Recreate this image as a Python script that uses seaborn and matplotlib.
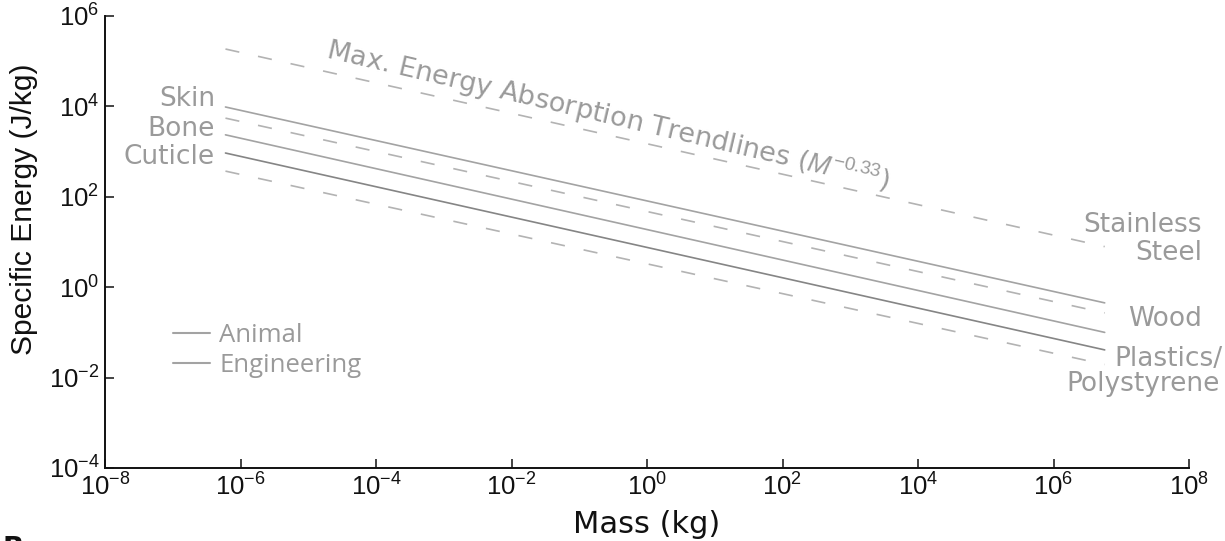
import numpy as np
import pandas as pd
import matplotlib
matplotlib.use("Agg")
import matplotlib.pyplot as plt
import seaborn as sns
from matplotlib.lines import Line2D

# ---- data ----
mass_ends = [6.0e-7, 5.7e6]                 # kg, start/end of every trendline
line_names = ["Max", "Skin", "Wood", "Bone", "Cuticle", "Plastics"]
energy_start = [1.86e5, 9.7e3, 5.5e3, 2.35e3, 9.3e2, 3.7e2]   # J/kg at mass_ends[0]
energy_end = [7.9, 0.45, 0.27, 0.10, 0.041, 0.0195]            # J/kg at mass_ends[1]
line_kinds = ["Engineering", "Animal", "Engineering", "Animal", "Animal", "Engineering"]

x_ticks = [1e-8, 1e-6, 1e-4, 1e-2, 1e0, 1e2, 1e4, 1e6, 1e8]
y_ticks = [1e-4, 1e-2, 1e0, 1e2, 1e4, 1e6]

animal_labels = ["Skin", "Bone", "Cuticle"]
animal_label_y = [1.0e4, 2.2e3, 5.3e2]
eng_labels = ["Stainless", "Steel", "Wood", "Plastics/", "Polystyrene"]
eng_label_y = [16.6, 4.0, 0.138, 0.0178, 0.0050]

rows = []
for n, k, s, e in zip(line_names, line_kinds, energy_start, energy_end):
    rows.append({"name": n, "kind": k, "mass": mass_ends[0], "energy": s})
    rows.append({"name": n, "kind": k, "mass": mass_ends[1], "energy": e})
df = pd.DataFrame(rows)

sns.set_theme(style="ticks")
plt.rcParams["font.family"] = ["DejaVu Sans"]
plt.rcParams["mathtext.fontset"] = "custom"
plt.rcParams["mathtext.rm"] = "Liberation Sans"
plt.rcParams["mathtext.it"] = "Liberation Sans:italic"
plt.rcParams["mathtext.bf"] = "Liberation Sans:bold"

fig = plt.figure(figsize=(12.25, 5.41), dpi=100)
ax = fig.add_axes([105 / 1225, 1 - 468 / 541, (1189 - 105) / 1225, (468 - 16) / 541])

gray_txt = "#9a9a9a"
colors = {"Max": "#b3b3b3", "Skin": "#a3a3a3", "Wood": "#b3b3b3",
          "Bone": "#a3a3a3", "Cuticle": "#858585", "Plastics": "#b3b3b3"}
dash = (0, (8.5, 11.5))
for n in line_names:
    sub = df[df["name"] == n]
    kind = sub["kind"].iloc[0]
    sns.lineplot(data=sub, x="mass", y="energy", ax=ax, color=colors[n],
                 linewidth=1.2, estimator=None, sort=False, legend=False)
    if kind == "Engineering":
        ax.lines[-1].set_linestyle(dash)

ax.set_xscale("log")
ax.set_yscale("log")
ax.set_xlim(1e-8, 1e8)
ax.set_ylim(1e-4, 1e6)
ax.set_xticks(x_ticks)
ax.set_yticks(y_ticks)
ax.minorticks_off()
ax.tick_params(axis="both", direction="in", length=6.5, width=1.1,
               labelsize=18.5, pad=4, colors="#111111")
for lbl in ax.get_xticklabels() + ax.get_yticklabels():
    lbl.set_fontfamily("Liberation Sans")
for side in ["top", "right"]:
    ax.spines[side].set_visible(False)
for side in ["left", "bottom"]:
    ax.spines[side].set_linewidth(1.4)
    ax.spines[side].set_color("#111111")

ax.set_xlabel("Mass (kg)", fontsize=22, color="#111111")
ax.set_ylabel("Specific Energy (J/kg)", fontsize=21.6, color="#111111",
              fontfamily="Liberation Sans")
ax.xaxis.set_label_coords(0.5, -0.093)
ax.yaxis.set_label_coords(-0.062, 0.573)

# left-side (animal) labels
for lab, yv in zip(animal_labels, animal_label_y):
    ax.text(4.2e-7, yv, lab, ha="right", va="baseline", fontsize=19, color=gray_txt)

# right-side (engineering) labels
right_x = [10 ** 8.19] * 3 + [10 ** 8.49, 10 ** 8.46]
for lab, xv, yv in zip(eng_labels, right_x, eng_label_y):
    ax.text(xv, yv, lab, ha="right", va="baseline", fontsize=19, color=gray_txt, clip_on=False)

ax.text(10 ** -4.753, 10 ** 5.07, r"Max. Energy Absorption Trendlines ($M^{-0.33}$)",
        rotation=-13.2, rotation_mode="anchor", ha="left", va="baseline",
        fontsize=19.5, color=gray_txt)

handles = [Line2D([], [], color="#a3a3a3", lw=1.5), Line2D([], [], color="#a3a3a3", lw=1.5)]
leg = ax.legend(handles, ["Animal", "Engineering"], loc="upper left",
                bbox_to_anchor=(173 / 1225, 1 - 323 / 541), bbox_transform=fig.transFigure,
                frameon=False, borderpad=0, borderaxespad=0, handlelength=1.45,
                handletextpad=0.35, labelspacing=0.2,
                prop={"family": "Open Sans", "size": 18.5})
for t in leg.get_texts():
    t.set_color(gray_txt)

fig.text(0.002, 0.012, "B", fontsize=20, fontweight="bold", ha="left", va="top", color="#111111")

fig.savefig("out.png", dpi=100)
